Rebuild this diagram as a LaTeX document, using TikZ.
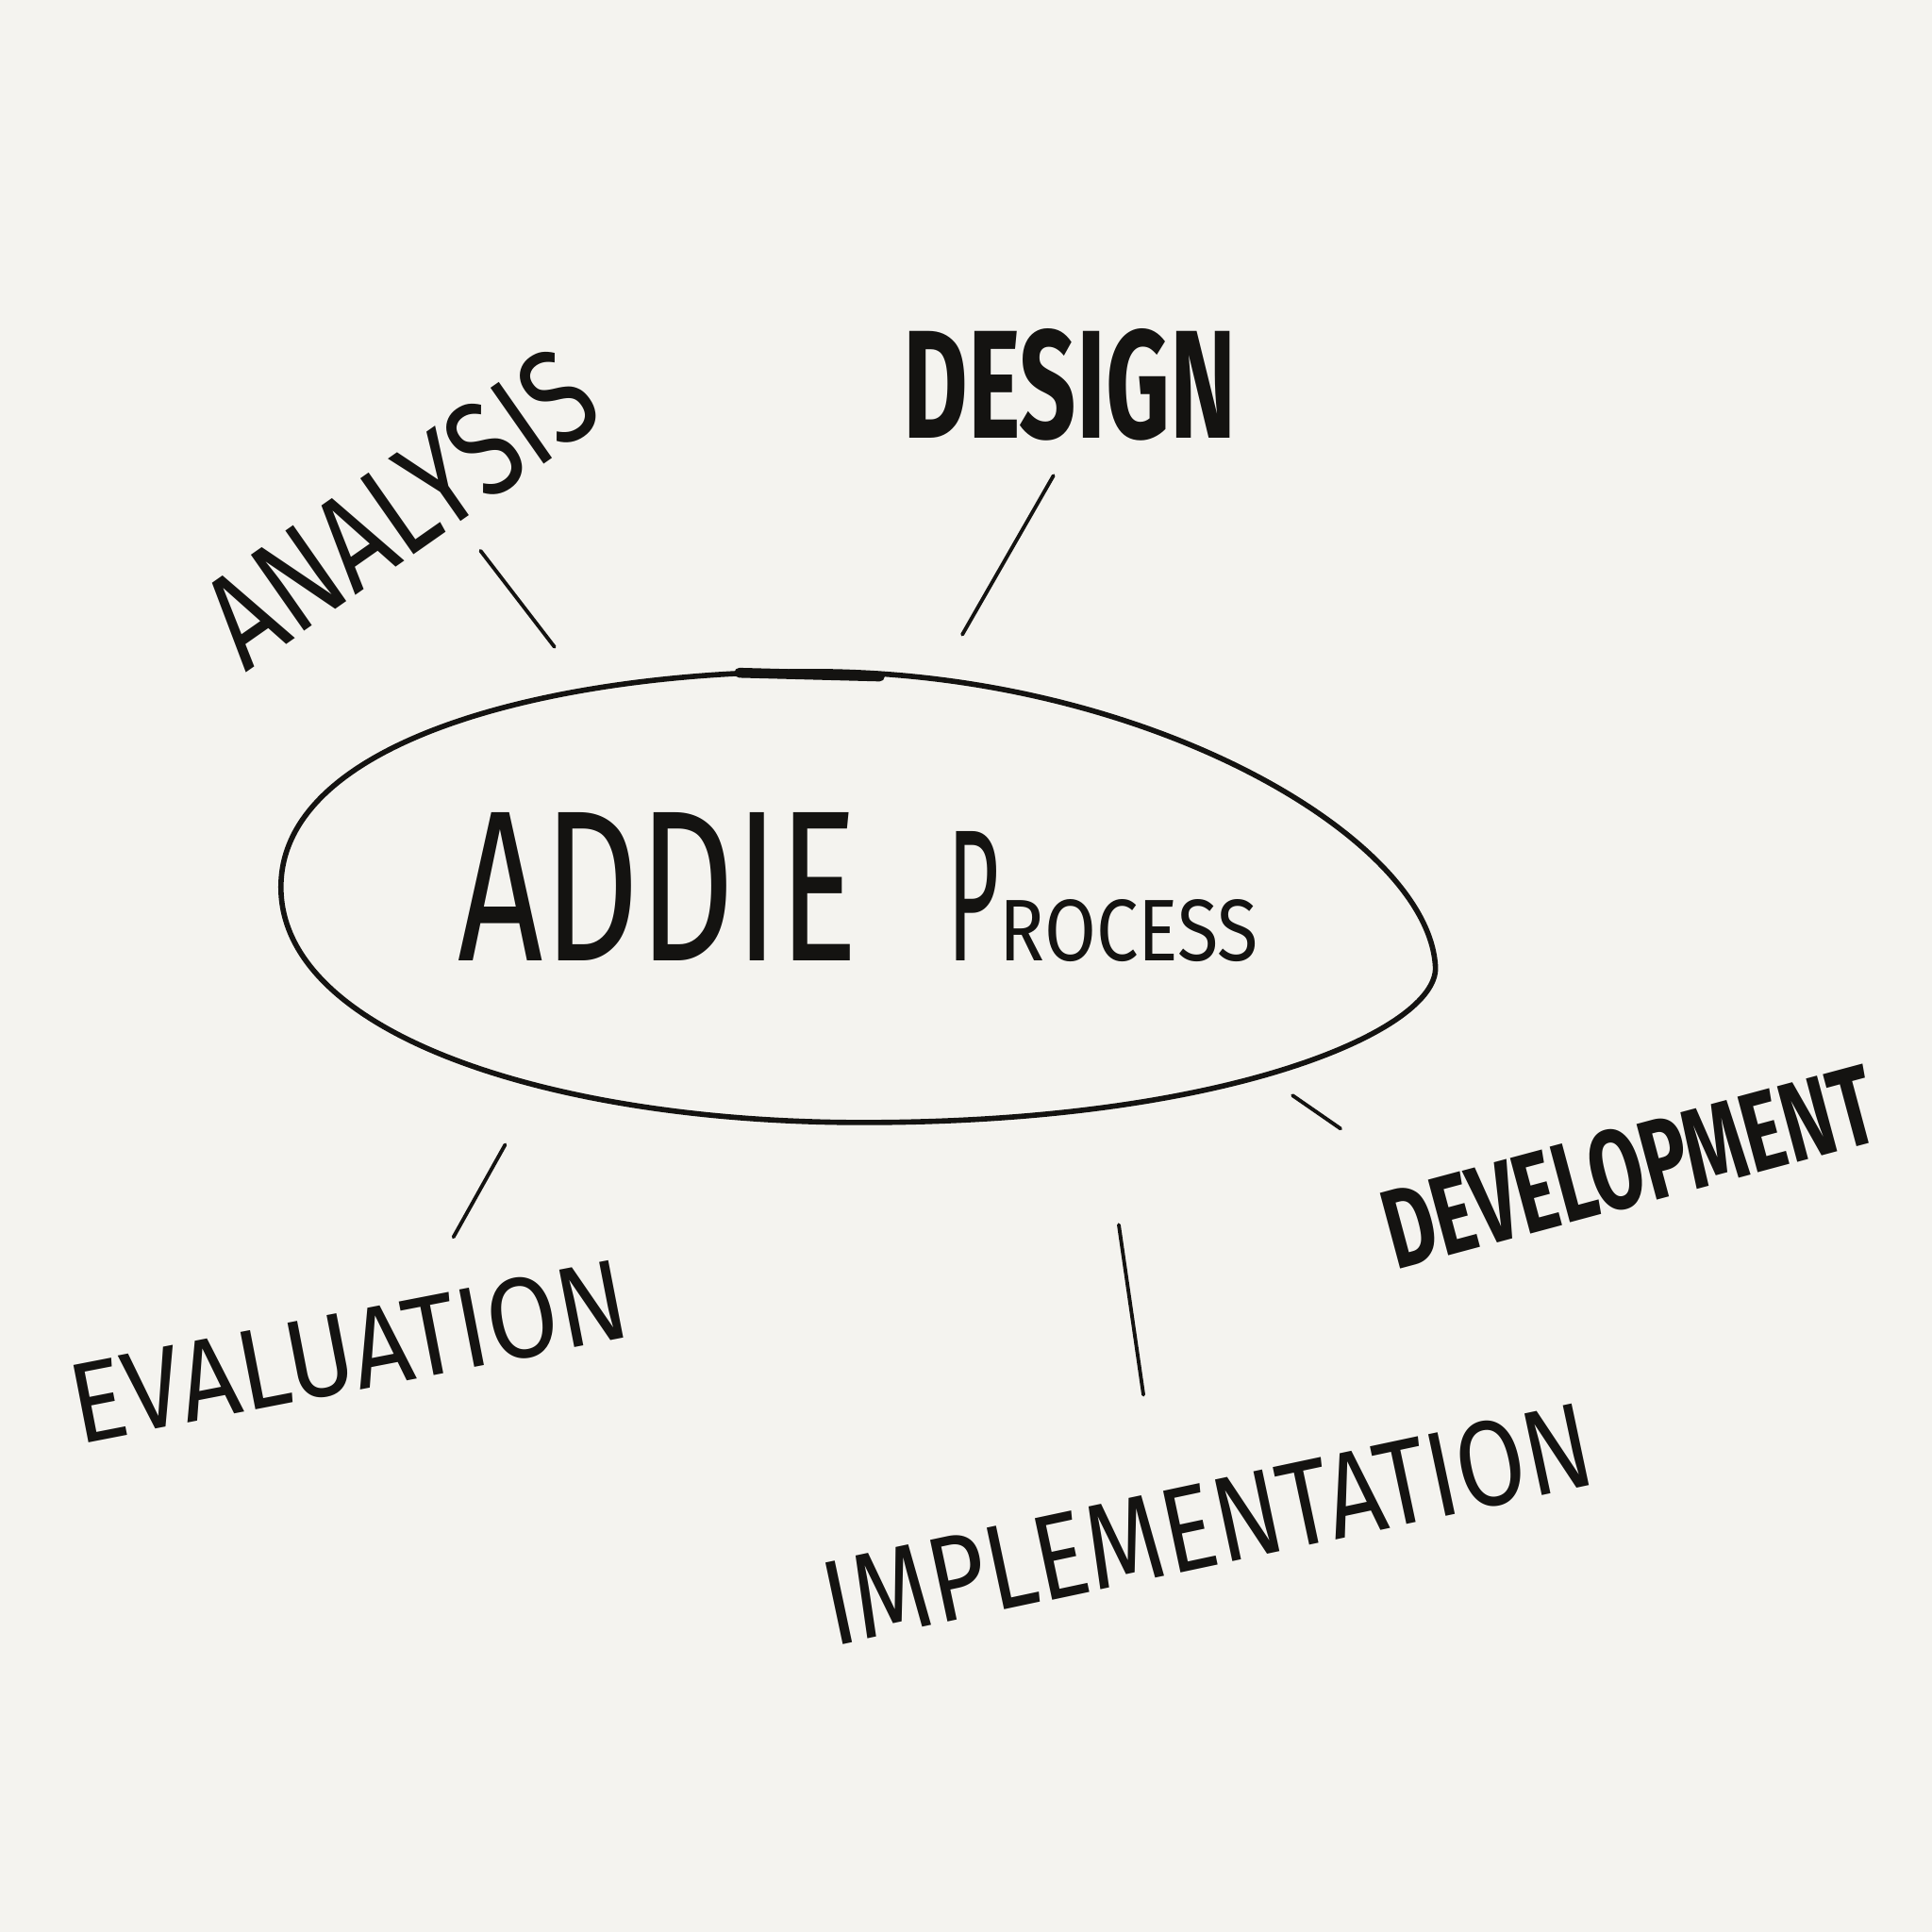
\documentclass[tikz,border=0pt]{standalone}
\usepackage{fontspec}
\setmainfont{Fira Sans}
\usepackage{graphicx}
\definecolor{board}{HTML}{F4F3EF}
\definecolor{ink}{HTML}{141311}
\newcommand{\hand}[3]{\resizebox{#1}{#2}{#3}}

\begin{document}
\begin{tikzpicture}[
x=0.01306cm, y=-0.01306cm,
  word/.style = {inner sep=0pt, outer sep=0pt, text=ink},% labels round the loop
  tick/.style = {draw=ink, line width=1.1pt, line cap=round},% short strokes
   egg/.style = {draw=ink, line width=1.6pt},
                    ]
\fill[board] (0,0) rectangle (1568,1568);
% the loop
\draw[egg] (228,720) .. controls (228,600) and (450,545) .. (660,545)
                     .. controls (930,545) and (1160,680) .. (1165,785)
                     .. controls (1167,835) and (1000,911) .. (700,911)
                     .. controls (450,911) and (228,840) .. (228,720) -- cycle;
\draw[ink, line width=3pt, line cap=round] (600,546) -- (714,549);
\node[word, anchor=base west] (addie) at (372,780)
    {\hand{4.24cm}{1.57cm}{ADDIE}\hspace{0.95cm}\hand{0.55cm}{1.37cm}{P}\hand{2.74cm}{0.65cm}{ROCESS}};
% phases
\node[word, rotate=35] (analysis) at (325,412) {\hand{4.7cm}{1.0cm}{ANALYSIS}};
\node[word] (design) at (868,312) {\hand{3.53cm}{1.16cm}{\bfseries DESIGN}};
\node[word, rotate=15] (development) at (1322,947) {\hand{5.35cm}{0.85cm}{\bfseries DEVELOPMENT}};
\node[word, rotate=12] (implementation) at (980,1237) {\hand{8.3cm}{0.9cm}{IMPLEMENTATION}};
\node[word, rotate=11] (evaluation) at (283,1097) {\hand{6.0cm}{0.85cm}{EVALUATION}};
% strokes
\coordinate (an1) at (390,447);  \coordinate (an2) at (450,525);
\coordinate (de1) at (855,386);  \coordinate (de2) at (781,515);
\coordinate (dv1) at (1049,889); \coordinate (dv2) at (1088,916);
\coordinate (im1) at (908,994);  \coordinate (im2) at (928,1132);
\coordinate (ev1) at (410,929);  \coordinate (ev2) at (368,1004);
\draw[tick] (an1) -- (an2);
\draw[tick] (de1) -- (de2);
\draw[tick] (dv1) -- (dv2);
\draw[tick] (im1) -- (im2);
\draw[tick] (ev1) -- (ev2);
\end{tikzpicture}
\end{document}
